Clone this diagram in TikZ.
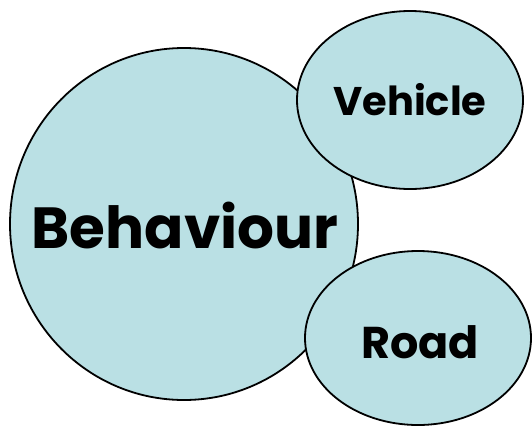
\documentclass[tikz,border=0pt]{standalone}
\usepackage{fontspec}
\setmainfont{Poppins}
\usetikzlibrary{shapes.geometric}
\definecolor{bubble}{HTML}{BAE0E4}
\tikzset{
  bub/.style={ellipse, draw=black, line width=1.8pt, fill=bubble, inner sep=0pt},
  lbl/.style={anchor=base, inner sep=0pt, font=\bfseries}
}
\begin{document}
\begin{tikzpicture}[x=1pt,y=-1pt]
\useasboundingbox (0,0) rectangle (532,426);
\node[bub, minimum width=348pt, minimum height=352pt] (beh) at (184,224) {};
\node[bub, minimum width=226pt, minimum height=178pt] (veh) at (410,100) {};
\node[bub, minimum width=226pt, minimum height=174pt] (road) at (418,338) {};
\node[lbl, font=\bfseries\fontsize{58}{58}\selectfont] (tb) at (185,248) {Behaviour};
\node[lbl, font=\bfseries\fontsize{40}{40}\selectfont] (tv) at (410,115) {Vehicle};
\node[lbl, font=\bfseries\fontsize{44.5}{44.5}\selectfont] (tr) at (420,358) {Road};
\end{tikzpicture}
\end{document}
